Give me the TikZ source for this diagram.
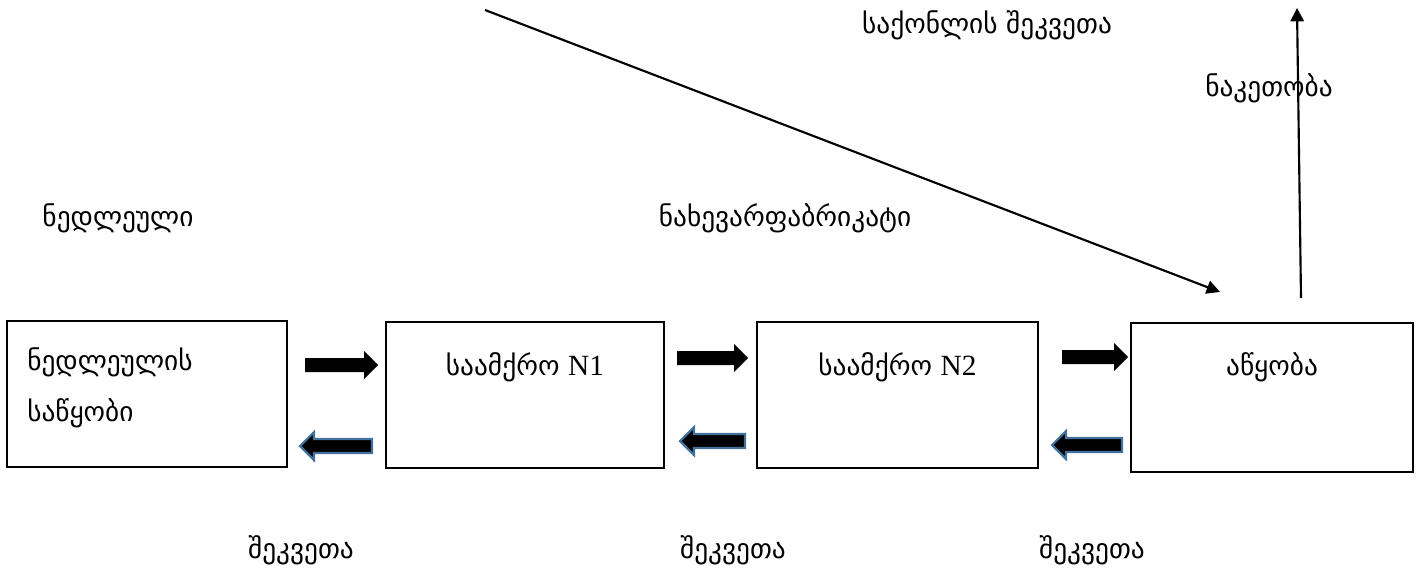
\documentclass[tikz,border=0pt]{standalone}
\usepackage{fontspec}
\setmainfont{DejaVu Sans}
\newfontfamily\latinserif{Liberation Serif}
\usetikzlibrary{arrows.meta}
\definecolor{arrowblue}{HTML}{41719C}
\tikzset{
  box/.style={draw=black, line width=1.5pt, inner sep=0pt},
  lbl/.style={font=\fontsize{20.5}{24}\selectfont, inner sep=0pt},
  rblock/.style={fill=black, draw=none},
  lblock/.style={fill=black, draw=arrowblue, line width=1.6pt, line join=miter},
  thin arrow/.style={line width=1.6pt, -{Triangle[length=10pt,width=10pt]}}
}
\newcommand{\rightblock}[3]{%
  \fill[rblock] (#1,#3-7) -- (#2-14,#3-7) -- (#2-14,#3-14) -- (#2,#3) -- (#2-14,#3+14) -- (#2-14,#3+7) -- (#1,#3+7) -- cycle;}
\newcommand{\leftblock}[3]{%
  \draw[lblock] (#2,#3-7) -- (#1+14,#3-7) -- (#1+14,#3-14) -- (#1,#3) -- (#1+14,#3+14) -- (#1+14,#3+7) -- (#2,#3+7) -- cycle;}
\begin{document}
\begin{tikzpicture}[x=0.75pt, y=-0.75pt]
\useasboundingbox (0,0) rectangle (1420,571);
% boxes
\node[box, minimum width=210pt, minimum height=109.5pt] (b1) at (147,394) {};
\node[box, minimum width=209pt, minimum height=109.5pt] (b2) at (525,395) {};
\node[box, minimum width=211pt, minimum height=109.5pt] (b3) at (897.5,395) {};
\node[box, minimum width=211.5pt, minimum height=111.5pt] (b4) at (1272,397.5) {};
% box texts
\node[lbl, anchor=west, align=left, font=\fontsize{20.5}{38}\selectfont] (t1) at (27,388) {ნედლეულის\\საწყობი};
\node[lbl] (t2) at (525,367) {საამქრო {\latinserif\fontsize{22}{24}\selectfont N1}};
\node[lbl] (t3) at (897.5,367) {საამქრო {\latinserif\fontsize{22}{24}\selectfont N2}};
\node[lbl] (t4) at (1272,367) {აწყობა};
% free labels
\node[lbl] (l1) at (118,218) {ნედლეული};
\node[lbl] (l2) at (785,218) {ნახევარფაბრიკატი};
\node[lbl] (l3) at (987,25) {საქონლის შეკვეთა};
\node[lbl] (l4) at (1269,88) {ნაკეთობა};
\node[lbl] (s1) at (301,550) {შეკვეთა};
\node[lbl] (s2) at (733,550) {შეკვეთა};
\node[lbl] (s3) at (1092,550) {შეკვეთა};
% block arrows
\rightblock{305}{378}{365}
\rightblock{677}{748}{358}
\rightblock{1062}{1128}{357}
\leftblock{300}{372}{446}
\leftblock{680}{745}{441}
\leftblock{1052}{1122}{445}
% thin arrows
\coordinate (dstart) at (485,10);
\coordinate (dend) at (1220,292);
\coordinate (vstart) at (1301,298);
\coordinate (vend) at (1297,8);
\draw[thin arrow] (dstart) -- (dend);
\draw[thin arrow] (vstart) -- (vend);
\end{tikzpicture}
\end{document}
